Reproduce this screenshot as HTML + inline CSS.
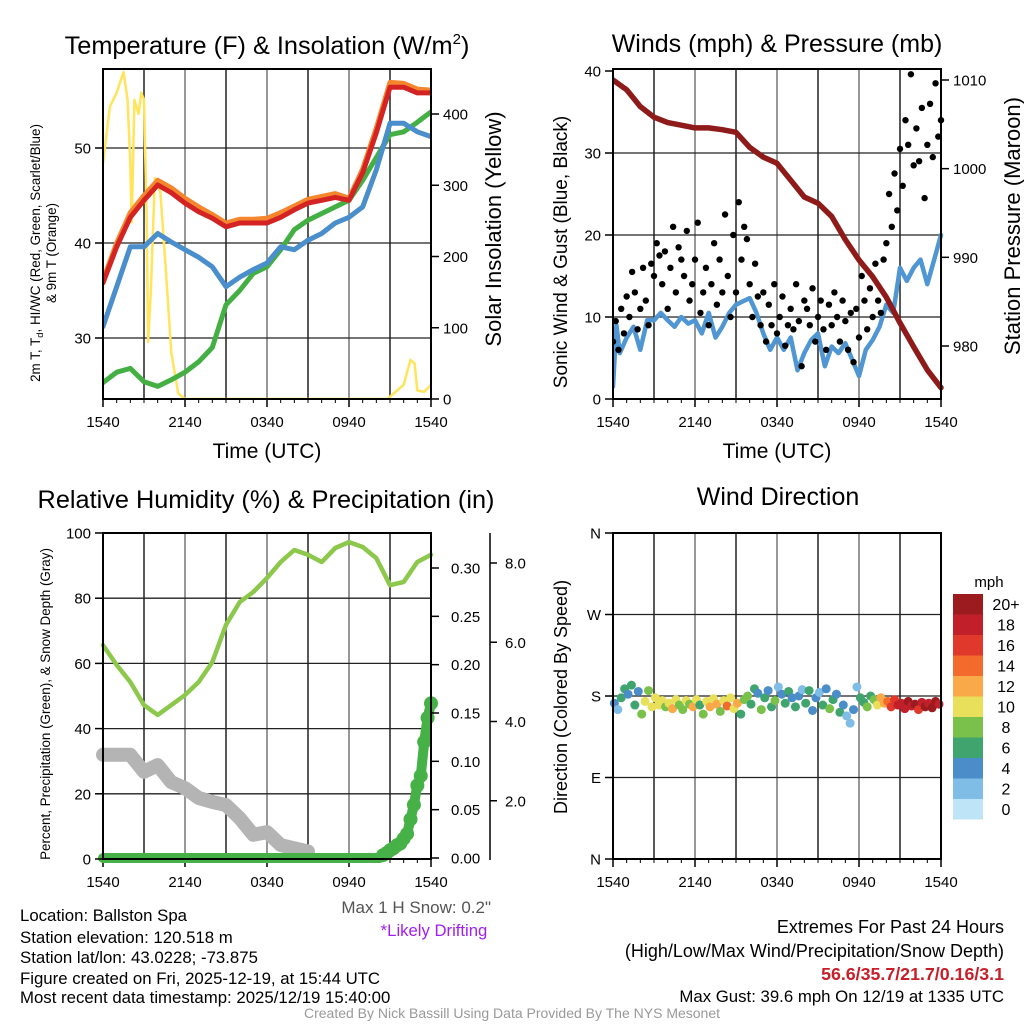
<!DOCTYPE html>
<html><head><meta charset="utf-8"><title>Mesonet Meteogram</title>
<style>
html,body{margin:0;padding:0;background:#fff;}
svg{display:block;font-family:"Liberation Sans",Arial,sans-serif;}
</style></head>
<body>
<svg id="chart" width="1024" height="1024" viewBox="0 0 1024 1024" xmlns="http://www.w3.org/2000/svg">
<rect x="0" y="0" width="1024" height="1024" fill="#fff"/>
<text x="267" y="54" font-size="25.3" text-anchor="middle">Temperature (F) &amp; Insolation (W/m<tspan font-size="15" dy="-10">2</tspan><tspan dy="10">)</tspan></text>
<text x="777" y="52" font-size="25" text-anchor="middle">Winds (mph) &amp; Pressure (mb)</text>
<text x="266" y="508" font-size="25.3" text-anchor="middle">Relative Humidity (%) &amp; Precipitation (in)</text>
<text x="778" y="505" font-size="25" text-anchor="middle">Wind Direction</text>

<text transform="translate(40,253) rotate(-90)" font-size="13.4" text-anchor="middle">2m T, T<tspan font-size="9.5" dy="3">d</tspan><tspan dy="-3">, HI/WC (Red, Green, Scarlet/Blue)</tspan></text>
<text transform="translate(56,253) rotate(-90)" font-size="13.4" text-anchor="middle">&amp; 9m T (Orange)</text>
<text transform="translate(501,229) rotate(-90)" font-size="22" text-anchor="middle">Solar Insolation (Yellow)</text>
<text x="267" y="458" font-size="21" text-anchor="middle">Time (UTC)</text>
<text transform="translate(567,252) rotate(-90)" font-size="19" text-anchor="middle">Sonic Wind &amp; Gust (Blue, Black)</text>
<text transform="translate(1020,226) rotate(-90)" font-size="22" text-anchor="middle">Station Pressure (Maroon)</text>
<text x="777" y="458" font-size="21" text-anchor="middle">Time (UTC)</text>
<text transform="translate(50,704) rotate(-90)" font-size="13.4" text-anchor="middle">Percent, Precipitation (Green), &amp; Snow Depth (Gray)</text>
<text transform="translate(567,697) rotate(-90)" font-size="18" text-anchor="middle">Direction (Colored By Speed)</text>
<text x="989" y="587" font-size="15" text-anchor="middle">mph</text>

<g font-size="16.8">
<text x="20" y="921">Location: Ballston Spa</text>
<text x="20" y="943">Station elevation: 120.518 m</text>
<text x="20" y="963">Station lat/lon: 43.0228; -73.875</text>
<text x="20" y="984">Figure created on Fri, 2025-12-19, at 15:44 UTC</text>
<text x="20" y="1003">Most recent data timestamp: 2025/12/19 15:40:00</text>
</g>
<text x="491" y="913" font-size="17" fill="#555" text-anchor="end">Max 1 H Snow: 0.2"</text>
<text x="434" y="936" font-size="16.7" fill="#a020f0" text-anchor="middle">*Likely Drifting</text>
<g text-anchor="end">
<text x="1004" y="933" font-size="18">Extremes For Past 24 Hours</text>
<text x="1004" y="957" font-size="18">(High/Low/Max Wind/Precipitation/Snow Depth)</text>
<text x="1004" y="980" font-size="17.8" fill="#c8202a" font-weight="bold">56.6/35.7/21.7/0.16/3.1</text>
<text x="1004" y="1002" font-size="16.8">Max Gust: 39.6 mph On 12/19 at 1335 UTC</text>
</g>
<text x="512" y="1018" font-size="14" fill="#999" text-anchor="middle">Created By Nick Bassill Using Data Provided By The NYS Mesonet</text>
</svg>
<script>
// ---------- data ----------
const hours = [0,1,2,3,4,5,6,7,8,9,10,11,12,13,14,15,16,17,18,19,20,21,22,23,24];
const xTickLabels = ["1540","2140","0340","0940","1540"];
const tempRed = [35.8,39.6,42.7,44.5,46.1,45.3,44.2,43.3,42.6,41.7,42.1,42.1,42.1,42.7,43.5,44.2,44.5,44.8,44.5,47.4,51.6,56.4,56.4,55.8,55.8];
const tempOrange = [36.1,40.0,43.2,45.0,46.6,45.8,44.7,43.8,43.0,42.1,42.5,42.5,42.6,43.2,43.9,44.6,44.9,45.2,44.7,47.8,52.1,56.9,56.8,56.2,56.1];
const tempBlue = [31.2,35.4,39.6,39.6,41.0,40.1,39.3,38.5,37.5,35.4,36.4,37.2,37.9,39.6,39.3,40.3,41.0,42.1,42.7,43.8,47.7,52.6,52.6,51.7,51.2];
const tempGreen = [25.3,26.4,26.8,25.4,24.9,25.6,26.4,27.5,29.0,33.5,35.0,36.8,37.5,39.3,41.4,42.4,43.1,43.8,44.5,46.6,49.0,51.4,51.7,52.7,53.8];
const tempTicks = [30,40,50];
const solarHours = [0,0.5,1,1.5,1.8,2.0,2.1,2.3,2.6,2.8,3.0,3.2,3.3,3.5,3.8,4.2,4.6,5.0,5.5,6.0,12,20.8,22,22.5,22.8,23,23.5,24];
const solarValues = [330,410,430,459,420,330,248,420,400,430,420,250,80,150,310,290,180,65,8,0,0,0,20,55,50,12,10,20];
const solarTicks = [0,100,200,300,400];
const windHours = [0,0.25,0.5,1,1.5,2,2.5,3,3.5,4,4.5,5,5.5,6,6.5,7,7.5,8,8.5,9,9.5,10,10.5,11,11.5,12,12.5,13,13.5,14,14.5,15,15.5,16,16.5,17,17.5,18,18.5,19,19.5,20,20.5,21,21.5,22,22.5,23,23.5,24];
const windSpeed = [1.5,9,5.6,7.5,8.8,6,9.6,9.6,10.5,9.6,8.8,10,9.2,9.6,8,10.5,7.5,8.8,10.5,11.5,11.9,12.3,10.5,8,6,7.5,6,7.5,3.5,5.6,7.2,8,4,6.4,5.6,6.8,4.8,2.8,6,7.2,8.8,11.5,10.5,16,14.4,16,17,14,17,20];
const gustValues = [7,9.5,6,11,8,12.5,10,15.5,13,8.5,11,16,12,9,16.5,15,19,17.5,14,18,11,16,21,13,18.5,17,15,20.5,12,14,17,21.5,10.5,13,16,9,14,19,11.5,17,13,22.5,15,10,20,13,24,17,21,19.5,14,10,16.5,12.5,9,13,7,11.5,9,14,8,10,12.5,6.5,9,11,8.5,14,9.5,4,12,11,9,13.5,7,10,12,8.5,6,11.5,9,13,10,7,12,9.5,6,10.5,4.5,11,7.5,15,12,8.5,13.5,10,16.5,12,10.5,17,19,25,21,27.5,23,30.5,26,34,31,39.6,28.5,33,29,35.5,24.5,31,36,29.5,38.5,32,34];
const windTicks = [0,10,20,30,40];
const pressureValues = [1010,1008.9,1007,1005.8,1005.2,1004.9,1004.6,1004.6,1004.4,1004.1,1002.4,1001.3,1000.6,998.7,996.8,996.1,994.6,992,989.7,987.8,985.5,982.6,979.9,977.3,975.3];
const pressureTicks = [980,990,1000,1010];
const rhValues = [65.6,59.5,54.3,47.2,44.2,47.2,50.3,54.3,60.4,71.8,78.8,81.9,86.2,91.1,94.8,93.3,91.1,95.4,97.2,95.7,92.3,84,85,91.1,93.3];
const rhTicks = [0,20,40,60,80,100];
const snowHours = [0,1,2,3,4,5,6,7,8,9,10,11,12,13,14,15];
const snowDepth = [3.16,3.16,3.16,2.73,2.9,2.47,2.32,2.07,1.97,1.89,1.56,1.14,1.21,0.88,0.8,0.72];
const snowTicks = ["2.0","4.0","6.0","8.0"];
const precipValues = [0,0,0,0,0,0,0,0,0,0,0,0,0,0,0,0,0,0,0,0,0,0,0,0,0,0,0,0,0,0,0,0,0,0,0,0,0,0,0,0,0,0,0,0,0,0,0,0,0,0,0,0,0,0,0,0,0,0,0,0,0,0,0,0,0,0,0,0,0,0,0,0,0,0,0,0,0,0,0,0,0,0,0.003,0.005,0.008,0.01,0.013,0.015,0.02,0.025,0.04,0.055,0.075,0.085,0.12,0.145,0.16];
const precipTicks = ["0.00","0.05","0.10","0.15","0.20","0.25","0.30"];
const dirValues = [172,165,178,188,182,192,170,185,160,174,186,168,178,170,175,168,172,166,176,170,165,175,171,168,176,170,160,174,168,177,171,163,175,169,178,166,172,160,176,180,171,188,183,165,178,186,168,175,190,182,172,185,178,168,180,187,172,186,164,178,184,170,188,166,176,182,162,170,158,150,165,190,178,173,168,180,176,170,178,172,174,168,176,170,172,166,174,169,171,165,173,168,172,167,174,171];
const dirSpeeds = [5,3,6,7,4,6,7,5,9,10,8,10,10,11,10,9,10,12,10,9,8,10,9,12,10,7,9,10,12,10,13,8,10,14,11,10,12,7,9,8,6,7,5,9,7,4,6,8,3,4,6,7,4,7,5,3,6,7,4,5,3,6,4,8,6,4,7,5,3,2,4,2,6,7,8,6,9,11,12,13,14,16,17,18,18,19,20,18,20,17,19,21,18,20,22,19];
const dirTickLabels = ["N","E","S","W","N"];
const cbarLabels = ["0","2","4","6","8","10","12","14","16","18","20+"];
const cbarColors = ["#bde5f7","#7fbde6","#4b8dc9","#3fa46e","#79c14a","#e8e05a","#f9a948","#f26a2c","#e0382b","#c1202a","#9b1b1e"];

// ---------- helpers ----------
const NS = "http://www.w3.org/2000/svg";
const svg = document.getElementById("chart");
function mk(tag, attrs, parent){
  const e = document.createElementNS(NS, tag);
  for (const k in attrs) e.setAttribute(k, attrs[k]);
  (parent || svg).appendChild(e);
  return e;
}
function lin(d0,d1,r0,r1){ return v => r0 + (v-d0)*(r1-r0)/(d1-d0); }

const P1 = {x0:103,x1:431,y0:69,y1:399};
const P2 = {x0:613,x1:941,y0:69,y1:399};
const P3 = {x0:103,x1:431,y0:533,y1:859};
const P4 = {x0:613,x1:941,y0:533,y1:859};

function panelFrame(P, name, hLines){
  const g = mk("g", {});
  
  
  const tx = lin(0,24,P.x0,P.x1);
  for (let h=3; h<24; h+=3){
    const l = mk("line", {x1:tx(h),x2:tx(h),y1:P.y0,y2:P.y1,stroke:(h%6===0)?"#777":"#222","stroke-width":1.5}, g);
    
    
  }
  hLines.forEach(y => {
    const l = mk("line", {x1:P.x0,x2:P.x1,y1:y,y2:y,stroke:"#222","stroke-width":1.3}, g);
    
    
  });
  xTickLabels.forEach((lab,i) => {
    const x = tx(i*6);
    const tk = mk("line", {x1:x,x2:x,y1:P.y1,y2:P.y1+8,stroke:"#000","stroke-width":1.5}, g);
    
    
    const t = mk("text", {x:x,y:P.y1+28,"font-size":15,"text-anchor":"middle"}, g);
    t.textContent = lab;
    
    
  });
  for (let h=1; h<24; h++){
    if (h%6===0) continue;
    const m = mk("line", {x1:tx(h),x2:tx(h),y1:P.y1,y2:P.y1+4,stroke:"#000","stroke-width":1}, g);
    
    
  }
  return {g, tx};
}
function border(P, name){
  const r = mk("rect", {x:P.x0,y:P.y0,width:P.x1-P.x0,height:P.y1-P.y0,fill:"none",stroke:"#000","stroke-width":2});
  
  
}
function yTicks(P, vals, scale, side, labels, name, fs){
  vals.forEach((v,i) => {
    const y = scale(v);
    const x = side==="left" ? P.x0 : P.x1;
    const dx = side==="left" ? -8 : 8;
    const tk = mk("line", {x1:x,x2:x+dx,y1:y,y2:y,stroke:"#000","stroke-width":1.5});
    
    
    const t = mk("text", {x: side==="left" ? x-12 : x+12, y:y+5.5, "font-size":fs||15, "text-anchor": side==="left"?"end":"start"});
    t.textContent = labels ? labels[i] : v;
    
    
  });
}
function path(xs, ys, color, width, name, parent){
  let d = "";
  xs.forEach((x,i)=>{ d += (i?"L":"M") + x.toFixed(1) + "," + ys[i].toFixed(1); });
  const p = mk("path", {d:d,fill:"none",stroke:color,"stroke-width":width,"stroke-linejoin":"round","stroke-linecap":"round"}, parent);
  
  
  return p;
}

// ---------- Panel 1: temperature ----------
const ty1 = lin(30,50,338,148);
const sy1 = lin(0,400,399,114);
const f1 = panelFrame(P1, "temperature", tempTicks.map(ty1));
const tx1 = f1.tx;
const clip1 = mk("clipPath", {id:"c1"}); mk("rect",{x:P1.x0,y:P1.y0,width:P1.x1-P1.x0,height:P1.y1-P1.y0},clip1);
const g1 = mk("g", {"clip-path":"url(#c1)"});


path(solarHours.map(tx1), solarValues.map(sy1), "#ffe45c", 2.5, "solar-insolation-line", g1);
path(hours.map(tx1), tempGreen.map(ty1), "#44b044", 5, "dewpoint-green-line", g1);
path(hours.map(tx1), tempBlue.map(ty1), "#4a8ecb", 5, "blue-temperature-line", g1);
path(hours.map(tx1), tempOrange.map(ty1), "#f4862e", 5, "9m-temperature-orange-line", g1);
path(hours.map(tx1), tempRed.map(ty1), "#d42323", 5, "2m-temperature-red-line", g1);
border(P1, "temperature");
yTicks(P1, tempTicks, ty1, "left", null, "temperature-y");
yTicks(P1, solarTicks, sy1, "right", null, "insolation-y");

// ---------- Panel 2: winds ----------
const wy = lin(0,40,399,71);
const py = lin(980,1010,346,80);
const f2 = panelFrame(P2, "winds", windTicks.slice(1,4).map(wy));
const tx2 = f2.tx;
const clip2 = mk("clipPath", {id:"c2"}); mk("rect",{x:P2.x0,y:P2.y0-4,width:P2.x1-P2.x0+4,height:P2.y1-P2.y0+4},clip2);
const g2 = mk("g", {"clip-path":"url(#c2)"});


path(windHours.map(tx2), windSpeed.map(wy), "#4f96d2", 4.5, "sonic-wind-line", g2);
gustValues.forEach((v,i) => {
  const c = mk("circle", {cx:tx2(i*0.2), cy:wy(v), r:3.2, fill:"#000"}, g2);
  
  
});
path(hours.map(tx2), pressureValues.map(py), "#8e1a1a", 5.5, "pressure-line", g2);
border(P2, "winds");
yTicks(P2, windTicks, wy, "left", null, "wind-y");
yTicks(P2, pressureTicks, py, "right", null, "pressure-y");

// ---------- Panel 3: RH & precip ----------
const ry = lin(0,100,859,533);
const precy = lin(0,0.30,858,568);
const snowy = lin(0,8,880,563);
const f3 = panelFrame(P3, "humidity", [20,40,60,80].map(ry));
const tx3 = f3.tx;
const clip3 = mk("clipPath", {id:"c3"}); mk("rect",{x:P3.x0-10,y:P3.y0,width:P3.x1-P3.x0+20,height:P3.y1-P3.y0+10},clip3);
const g3 = mk("g", {"clip-path":"url(#c3)"});


path(hours.map(tx3), rhValues.map(ry), "#8cc84b", 4.5, "relative-humidity-line", g3);
path(snowHours.map(tx3), snowDepth.map(snowy), "#b4b4b4", 14, "snow-depth-line", g3);
path(precipValues.map((v,i)=>tx3(i*0.25)), precipValues.map(precy), "#46b146", 10, "precipitation-line", g3);
precipValues.forEach((v,i) => {
  if (v <= 0) return;
  const c = mk("circle", {cx:tx3(i*0.25), cy:precy(v), r:7, fill:"#46b146"}, g3);
  
  
});
border(P3, "humidity");
yTicks(P3, rhTicks, ry, "left", null, "humidity-y");
precipTicks.forEach(lab => {
  const y = precy(parseFloat(lab));
  const tk = mk("line", {x1:P3.x1,x2:P3.x1+8,y1:y,y2:y,stroke:"#000","stroke-width":1.5});
  
  
  const t = mk("text", {x:P3.x1+20,y:y+5.5,"font-size":15});
  t.textContent = lab;
  
  
});
const sAx = mk("line", {x1:490,x2:490,y1:533,y2:860,stroke:"#000","stroke-width":1.5});


snowTicks.forEach(lab => {
  const y = snowy(parseFloat(lab));
  const tk = mk("line", {x1:490,x2:497,y1:y,y2:y,stroke:"#000","stroke-width":1.5});
  
  
  const t = mk("text", {x:505,y:y+5.5,"font-size":15});
  t.textContent = lab;
  
  
});

// ---------- Panel 4: wind direction ----------
const dy = lin(0,360,859,533);
const f4 = panelFrame(P4, "direction", [90,180,270].map(dy));
const tx4 = f4.tx;
function speedColor(s){ let i = Math.floor(s/2); if (i>10) i=10; if (i<0) i=0; return cbarColors[i]; }
dirValues.forEach((d,i) => {
  const c = mk("circle", {cx:tx4(i*0.25+0.1), cy:dy(d), r:4.5, fill:speedColor(dirSpeeds[i])});
  
  
});
border(P4, "direction");
yTicks(P4, [0,90,180,270,360], dy, "left", dirTickLabels, "direction-y");
cbarColors.forEach((col,i) => {
  const y = 594 + (10-i)*20.5;
  const r = mk("rect", {x:953,y:y,width:30,height:20.5,fill:col});
  
  
  const t = mk("text", {x:1006,y:y+16,"font-size":16,"text-anchor":"middle"});
  t.textContent = cbarLabels[i];
  
  
});
</script>
</body></html>
